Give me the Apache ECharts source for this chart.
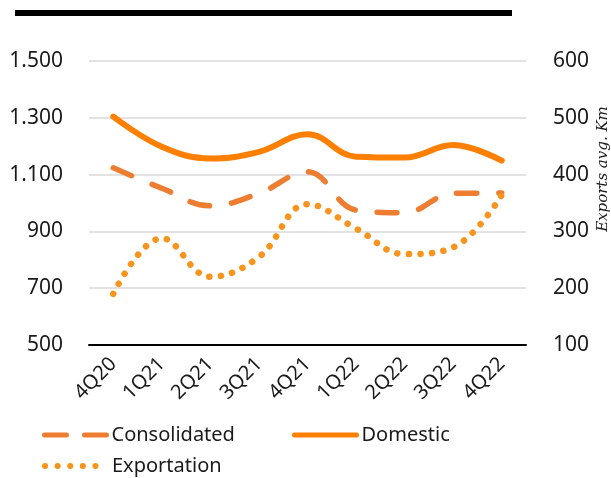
<!DOCTYPE html>
<html><head><meta charset="utf-8">
<script src="https://cdn.jsdelivr.net/npm/echarts@6/dist/echarts.min.js"></script>
<style>html,body{margin:0;padding:0;background:#fff}#c{width:611px;height:478px}</style>
</head><body><div id="c"></div>
<script>
const categories = ['4Q20','1Q21','2Q21','3Q21','4Q21','1Q22','2Q22','3Q22','4Q22'];
const consolidated = [1124, 1052, 990, 1034, 1110, 975, 966, 1034, 1035];
const domestic = [1304, 1198, 1157, 1180, 1242, 1163, 1160, 1204, 1149];
const exportation = [190, 288, 220, 255, 348, 305, 260, 272, 364];
const leftTicks = [500, 1500, 200];
const rightTicks = [100, 600, 100];

const font = 'Noto Sans';
const C_CONS = '#ED7D31', C_DOM = '#FF7F00', C_EXP = '#F7941D';
const chart = echarts.init(document.getElementById('c'));
function fmt(v){ return String(v).replace(/\B(?=(\d{3})+(?!\d))/g, '.'); }
const legendBase = {itemWidth: 62, itemHeight: 14, itemGap: 5, padding: 0,
  itemStyle: {opacity: 0},
  textStyle: {fontSize: 20, color:'#1a1a1a', fontFamily: font}};
chart.setOption({
  animation: false,
  textStyle: {fontFamily: font},
  graphic: [
    {type:'line', shape:{x1:15,y1:13,x2:512,y2:13}, style:{stroke:'#000', lineWidth:6}},
    {type:'text', x: 603, y: 169, rotation: Math.PI/2,
     style:{text:'Exports avg. Km', fontFamily:'DejaVu Serif', fontStyle:'italic', fontSize: 15,
            fill:'#1a1a1a', align:'center', verticalAlign:'middle'}}
  ],
  grid: {left: 89, right: 85, top: 61, bottom: 133},
  legend: [
    Object.assign({}, legendBase, {data:['Consolidated'], left: 42, top: 425,
      lineStyle:{width:5, type:[22,18], cap:'round'}}),
    Object.assign({}, legendBase, {data:['Domestic'], left: 292, top: 425,
      lineStyle:{width:5, cap:'round'}}),
    Object.assign({}, legendBase, {data:['Exportation'], left: 42, top: 456,
      lineStyle:{width:6, type:[0.1,12.5], cap:'round'}})
  ],
  xAxis: {
    type: 'category', data: categories, boundaryGap: true,
    axisLine: {lineStyle: {color:'#000', width: 2}},
    axisTick: {show: false},
    axisLabel: {rotate: 45, fontSize: 20, color:'#1a1a1a', margin: 16, fontFamily: font}
  },
  yAxis: [
    {type:'value', min: leftTicks[0], max: leftTicks[1], interval: leftTicks[2],
     axisLine:{show:false}, axisTick:{show:false},
     axisLabel:{fontSize:21, color:'#1a1a1a', margin: 26, formatter: fmt, fontFamily: font},
     splitLine:{lineStyle:{color:'#d9d9d9', width:1.5}}},
    {type:'value', min: rightTicks[0], max: rightTicks[1], interval: rightTicks[2], position:'right',
     axisLine:{show:false}, axisTick:{show:false},
     axisLabel:{fontSize:21, color:'#1a1a1a', margin: 27, fontFamily: font},
     splitLine:{show:false}}
  ],
  series: [
    {name:'Consolidated', type:'line', data: consolidated, yAxisIndex:0, smooth:0.4, symbol:'none',
     lineStyle:{color:C_CONS, width:5.5, type:[20,22], cap:'round'}, itemStyle:{color:C_CONS}},
    {name:'Domestic', type:'line', data: domestic, yAxisIndex:0, smooth:0.4, symbol:'none',
     lineStyle:{color:C_DOM, width:6, cap:'round'}, itemStyle:{color:C_DOM}},
    {name:'Exportation', type:'line', data: exportation, yAxisIndex:1, smooth:0.4, symbol:'none',
     lineStyle:{color:C_EXP, width:6.5, type:[0.1,11.5], cap:'round'}, itemStyle:{color:C_EXP}}
  ]
});
</script></body></html>
